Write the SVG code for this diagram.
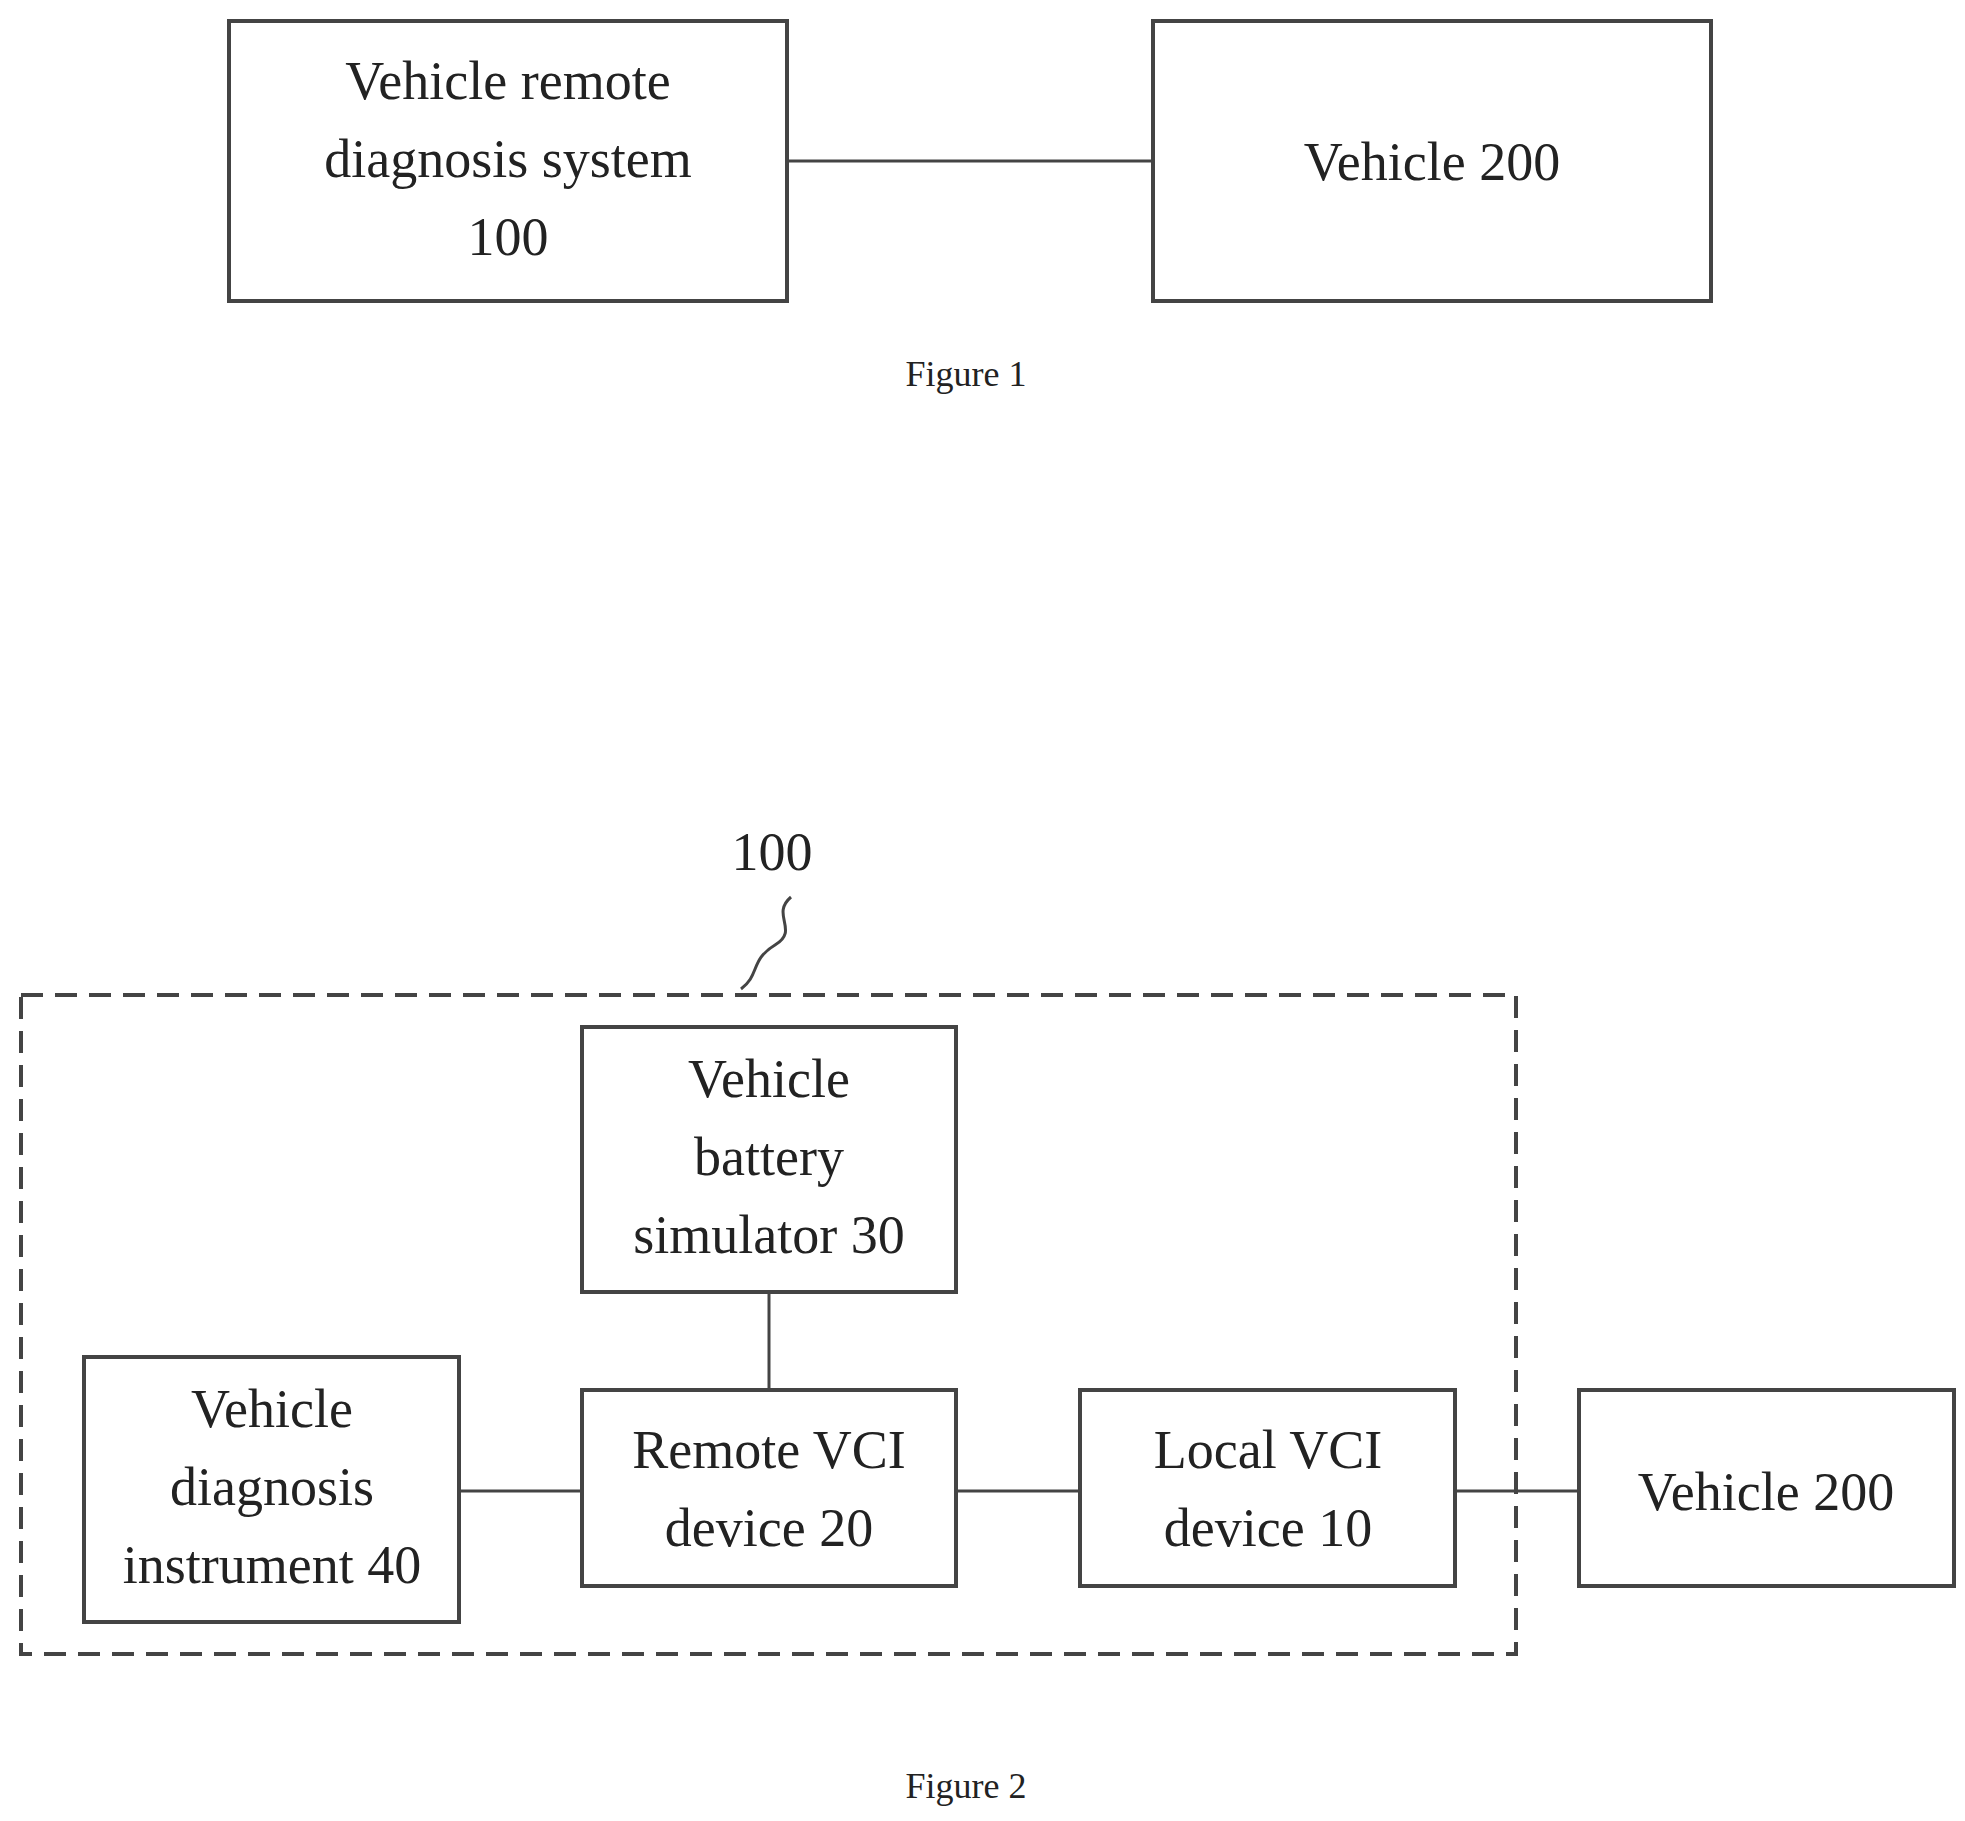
<svg xmlns="http://www.w3.org/2000/svg" width="1965" height="1821" viewBox="0 0 1965 1821">
<style>
.b{fill:none;stroke:#444;stroke-width:4}
.t{font-family:"Liberation Serif",serif;font-size:54px;fill:#222;text-anchor:middle}
.c{font-family:"Liberation Serif",serif;font-size:36px;fill:#222;text-anchor:middle}
.l{stroke:#444;stroke-width:3;fill:none}
</style>
<rect width="1965" height="1821" fill="#fff"/>
<g id="conn">
<line class="l" x1="787" y1="161" x2="1153" y2="161"/>
<line class="l" x1="769" y1="1292" x2="769" y2="1390"/>
<line class="l" x1="459" y1="1491" x2="582" y2="1491"/>
<line class="l" x1="956" y1="1491" x2="1080" y2="1491"/>
<line class="l" x1="1455" y1="1491" x2="1579" y2="1491"/>
<path class="l" d="M791 897 C770 915,800 930,775 945 C750 960,760 975,741 989"/>
</g>
<g id="n100"><rect class="b" x="229" y="21" width="558" height="280"/>
<text class="t" x="508" y="99">Vehicle remote</text><text class="t" x="508" y="177">diagnosis system</text><text class="t" x="508" y="255">100</text></g>
<g id="v200a"><rect class="b" x="1153" y="21" width="558" height="280"/><text class="t" x="1432" y="180">Vehicle 200</text></g>
<text class="c" x="966" y="386">Figure 1</text>
<g id="sys100"><rect x="21" y="995" width="1495" height="659" fill="none" stroke="#444" stroke-width="4" stroke-dasharray="22,12"/>
<text class="t" x="772" y="870">100</text></g>
<g id="n30"><rect class="b" x="582" y="1027" width="374" height="265"/>
<text class="t" x="769" y="1097">Vehicle</text><text class="t" x="769" y="1175">battery</text><text class="t" x="769" y="1253">simulator 30</text></g>
<g id="n40"><rect class="b" x="84" y="1357" width="375" height="265"/>
<text class="t" x="272" y="1427">Vehicle</text><text class="t" x="272" y="1505">diagnosis</text><text class="t" x="272" y="1583">instrument 40</text></g>
<g id="n20"><rect class="b" x="582" y="1390" width="374" height="196"/>
<text class="t" x="769" y="1468">Remote VCI</text><text class="t" x="769" y="1546">device 20</text></g>
<g id="n10"><rect class="b" x="1080" y="1390" width="375" height="196"/>
<text class="t" x="1268" y="1468">Local VCI</text><text class="t" x="1268" y="1546">device 10</text></g>
<g id="v200b"><rect class="b" x="1579" y="1390" width="375" height="196"/><text class="t" x="1766" y="1510">Vehicle 200</text></g>
<text class="c" x="966" y="1798">Figure 2</text>
</svg>
